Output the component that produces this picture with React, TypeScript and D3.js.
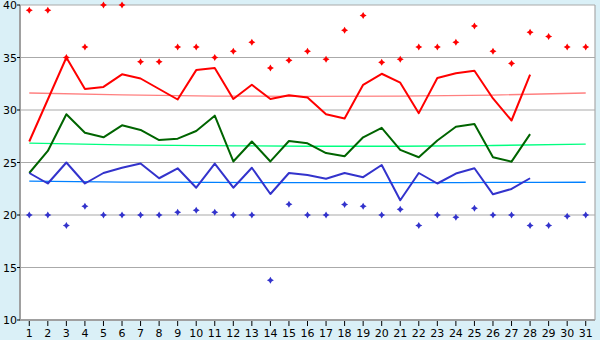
import React, { useEffect, useRef } from "react";
import * as d3 from "d3";

const days = d3.range(1, 32);
const maxLine = [27, 31, 35, 32, 32.2, 33.4, 33, 32, 31, 33.8, 34, 31.05, 32.4, 31.05, 31.4, 31.2, 29.6, 29.2, 32.4, 33.45, 32.6, 29.7, 33.05, 33.5, 33.74, 31.1, 29, 33.36];
const meanLine = [24, 26.1, 29.6, 27.84, 27.4, 28.54, 28.1, 27.14, 27.27, 28, 29.46, 25.1, 27, 25.1, 27.05, 26.83, 25.9, 25.6, 27.4, 28.3, 26.2, 25.5, 27.1, 28.4, 28.67, 25.5, 25.08, 27.7];
const minLine = [24, 23, 25, 23, 24, 24.5, 24.9, 23.5, 24.45, 22.6, 24.9, 22.6, 24.5, 22, 24, 23.8, 23.46, 24, 23.6, 24.76, 21.4, 24, 23, 23.95, 24.45, 21.97, 22.48, 23.5];
const maxPoints = [39.5, 39.5, 35, 36, 40, 40, 34.6, 34.6, 36, 36, 35, 35.6, 36.45, 34, 34.73, 35.6, 34.83, 37.6, 39, 34.54, 34.83, 36, 36, 36.45, 38, 35.6, 34.44, 37.4, 37, 36, 36];
const minPoints = [20, 20, 19, 20.83, 20, 20, 20, 20, 20.26, 20.45, 20.26, 20, 20, 13.78, 21.02, 20, 20, 21, 20.83, 20, 20.54, 19, 20, 19.78, 20.64, 20, 20, 19, 19, 19.88, 20];
// trend lines (read at days 1, 6, 11, 16, 21, 26, 31)
const trendDays = [1, 6, 11, 16, 21, 26, 31];
const maxTrend = [31.62, 31.44, 31.33, 31.3, 31.32, 31.42, 31.62];
const meanTrend = [26.85, 26.68, 26.6, 26.55, 26.55, 26.62, 26.75];
const minTrend = [23.22, 23.14, 23.1, 23.08, 23.08, 23.1, 23.12];
const yTicks = [10, 15, 20, 25, 30, 35, 40];

const W = 600, H = 340;
const left = 20, right = 595, top = 5, bottom = 320;

export default function App() {
  const ref = useRef<SVGSVGElement>(null);
  useEffect(() => {
    const svg = d3.select(ref.current);
    svg.selectAll("*").remove();
    const x = d3.scalePoint<number>().domain(days).range([left, right]).padding(0.5);
    const y = d3.scaleLinear().domain([10, 40]).range([bottom, top]);

    svg.append("rect").attr("width", W).attr("height", H).attr("fill", "#daf0f7");
    svg.append("rect").attr("x", left).attr("y", top).attr("width", right - left).attr("height", bottom - top).attr("fill", "#fff");

    // grid
    svg.append("g").selectAll("line").data(yTicks).enter().append("line")
      .attr("x1", left).attr("x2", right).attr("y1", d => y(d)).attr("y2", d => y(d))
      .attr("stroke", "#aaaaaa").attr("stroke-width", 1.2);
    svg.append("line").attr("x1", right).attr("x2", right).attr("y1", top).attr("y2", bottom).attr("stroke", "#aaaaaa").attr("stroke-width", 1.2);
    svg.append("line").attr("x1", left).attr("x2", left).attr("y1", top).attr("y2", bottom + 0.5).attr("stroke", "#a0a0a0").attr("stroke-width", 2);
    svg.append("line").attr("x1", left).attr("x2", right).attr("y1", bottom).attr("y2", bottom).attr("stroke", "#a0a0a0").attr("stroke-width", 2);

    // y axis
    const ya = svg.append("g");
    ya.selectAll("line").data(yTicks).enter().append("line")
      .attr("x1", left - 3).attr("x2", left).attr("y1", d => y(d)).attr("y2", d => y(d)).attr("stroke", "#000");
    ya.selectAll("text").data(yTicks).enter().append("text")
      .attr("x", left - 3).attr("y", d => y(d) + 4).attr("text-anchor", "end")
      .attr("font-family", "DejaVu Sans").attr("font-size", 11).attr("fill", "#000").text(d => d);

    // x axis
    const xa = svg.append("g");
    xa.selectAll("line").data(days).enter().append("line")
      .attr("x1", d => x(d)!).attr("x2", d => x(d)!).attr("y1", bottom + 1).attr("y2", bottom + 6).attr("stroke", "#000");
    xa.selectAll("text").data(days).enter().append("text")
      .attr("x", d => x(d)!).attr("y", bottom + 17).attr("text-anchor", "middle")
      .attr("font-family", "DejaVu Sans").attr("font-size", 11).attr("fill", "#000").text(d => d);

    // trend lines
    const trend = d3.line<number>().x((d, i) => x(trendDays[i])!).y(d => y(d)).curve(d3.curveMonotoneX);
    [[maxTrend, "#ff8080"], [meanTrend, "#00ff80"], [minTrend, "#0080ff"]].forEach(([vals, c]) => {
      svg.append("path").attr("d", trend(vals as number[])).attr("fill", "none")
        .attr("stroke", c as string).attr("stroke-width", 1.3);
    });

    // main lines
    const line = d3.line<number>().x((d, i) => x(days[i])!).y(d => y(d));
    [[maxLine, "#ff0000"], [meanLine, "#006400"], [minLine, "#3333cc"]].forEach(([vals, c]) => {
      svg.append("path").attr("d", line(vals as number[])).attr("fill", "none")
        .attr("stroke", c as string).attr("stroke-width", 2).attr("stroke-linejoin", "round");
    });

    // markers
    const star = "M0,-3.5L1.3,-1.3L3.5,0L1.3,1.3L0,3.5L-1.3,1.3L-3.5,0L-1.3,-1.3Z";
    [[maxPoints, "#ff0000"], [minPoints, "#3333cc"]].forEach(([vals, c]) => {
      svg.append("g").selectAll("path").data(vals as number[]).enter().append("path")
        .attr("d", star).attr("fill", c as string)
        .attr("transform", (d, i) => `translate(${x(days[i])},${y(d)})`);
    });
  }, []);
  return (
    <svg ref={ref} width={W} height={H} style={{ position: "absolute", left: 0, top: 0 }} />
  );
}
